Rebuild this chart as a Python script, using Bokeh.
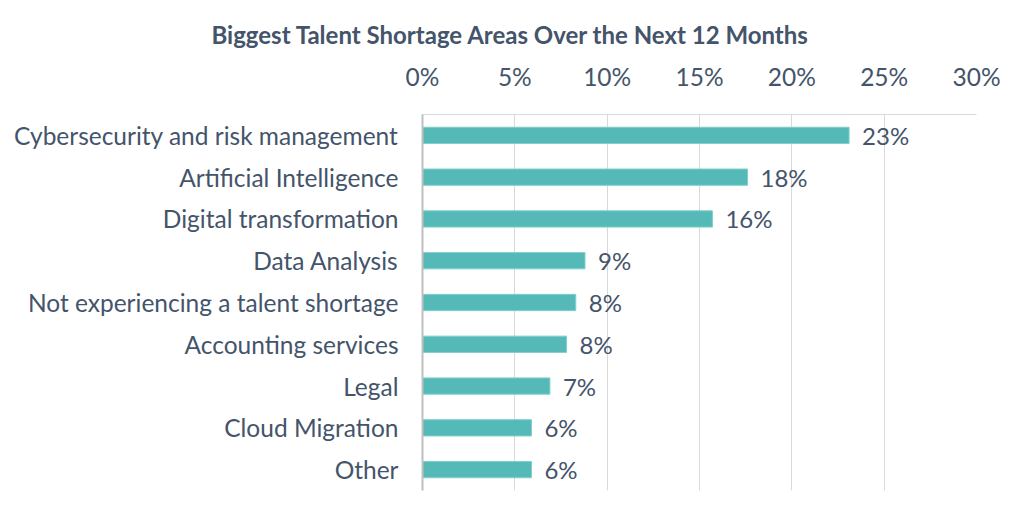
from bokeh.plotting import figure
from bokeh.models import ColumnDataSource, FactorRange, Range1d, LinearAxis, FixedTicker, CustomJSTickFormatter
from bokeh.core.properties import value
from bokeh.embed import file_html
from bokeh.resources import INLINE

categories = ["Cybersecurity and risk management", "Artificial Intelligence", "Digital transformation",
              "Data Analysis", "Not experiencing a talent shortage", "Accounting services",
              "Legal", "Cloud Migration", "Other"]
values = [23.1, 17.6, 15.7, 8.8, 8.3, 7.8, 6.9, 5.9, 5.9]
labels = ["23%", "18%", "16%", "9%", "8%", "8%", "7%", "6%", "6%"]
ticks = [0, 5, 10, 15, 20, 25, 30]

TEXT = "#44546A"
FONT = "Lato"

src = ColumnDataSource(dict(cat=categories, val=values, lab=labels))

p = figure(width=1008, height=504, output_backend="svg", toolbar_location=None,
           y_range=FactorRange(factors=list(reversed(categories))),
           x_range=Range1d(0, 30), x_axis_location=None, y_axis_location="left",
           min_border_left=422, min_border_right=32, min_border_top=114, min_border_bottom=14)
p.outline_line_color = None

p.title.text = "Biggest Talent Shortage Areas Over the Next 12 Months"
p.title.text_font = FONT
p.title.text_font_size = "24px"
p.title.text_font_style = "bold"
p.title.text_color = TEXT
p.title.align = "left"
p.title.offset = -211
p.title.standoff = 19

top = LinearAxis(ticker=FixedTicker(ticks=ticks),
                 formatter=CustomJSTickFormatter(code="return tick + '%';"))
top.axis_line_color = "#D9D9D9"
top.major_tick_line_color = None
top.minor_tick_line_color = None
top.major_label_text_font = FONT
top.major_label_text_font_size = "24.5px"
top.major_label_text_color = TEXT
top.major_label_standoff = 18
p.add_layout(top, "above")

ya = p.yaxis[0]
ya.axis_line_color = "#BFBFBF"
ya.axis_line_width = 2
ya.major_tick_line_color = None
ya.minor_tick_line_color = None
ya.major_label_text_font = FONT
ya.major_label_text_font_size = "24.5px"
ya.major_label_text_color = TEXT
ya.major_label_standoff = 18

p.xgrid.ticker = FixedTicker(ticks=ticks)
p.xgrid.grid_line_color = "#D9D9D9"
p.ygrid.grid_line_color = None

p.hbar(y="cat", right="val", left=0, height=0.39, source=src, fill_color="#55BAB7",
       line_color="#7FD0CD", line_width=1)
p.text(x="val", y="cat", text="lab", source=src, x_offset=13, text_baseline="middle",
       text_align="left", text_font=value(FONT), text_font_size="24px", text_color=TEXT)

open("out.html", "w").write(file_html(p, INLINE))
